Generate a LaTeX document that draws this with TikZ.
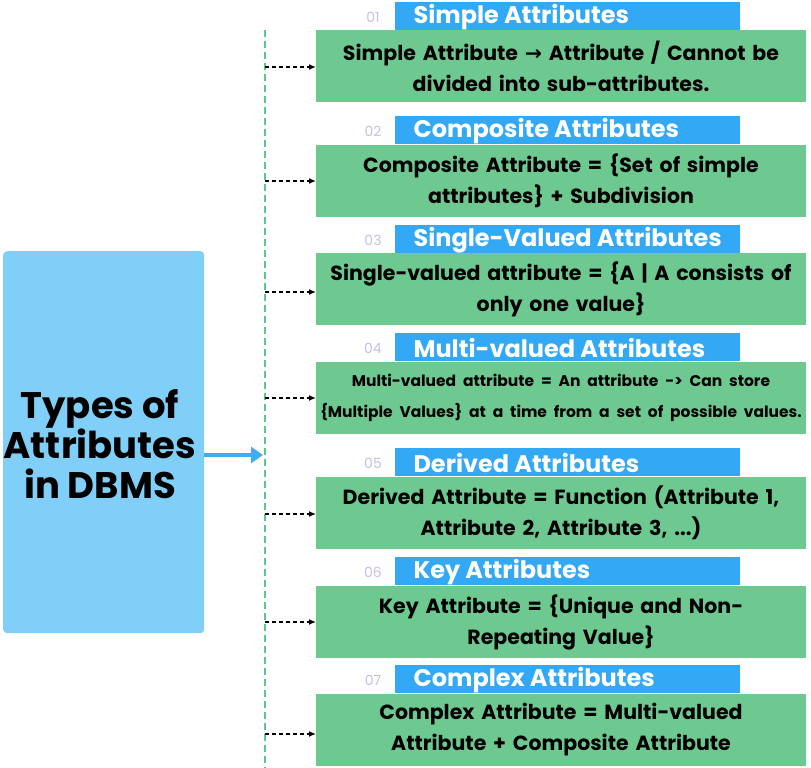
\documentclass[tikz,border=0pt]{standalone}
\usepackage{fontspec}
\setmainfont{Poppins}
\newfontfamily\dvs{DejaVu Sans}
\usetikzlibrary{arrows.meta}
\definecolor{lblue}{HTML}{80CFF8}
\definecolor{hblue}{HTML}{33A9F5}
\definecolor{gbox}{HTML}{6DC98F}
\definecolor{gline}{HTML}{5BC68E}
\definecolor{numc}{HTML}{C6BFE6}
\definecolor{arr}{HTML}{3DAEF0}
\tikzset{
 hdr/.style={fill=hblue,minimum width=345pt,minimum height=28pt,anchor=north west,inner sep=0pt},
 hdrtxt/.style={text=white,font=\fontsize{24}{26}\selectfont\bfseries,anchor=west},
 gb/.style={fill=gbox,minimum width=490pt,minimum height=72pt,anchor=north west,inner sep=0pt},
 gbt/.style={text width=490pt,align=center,font=\fontsize{20.5}{31}\selectfont\bfseries},
 num/.style={text=numc,font=\fontsize{14}{16}\selectfont},
 da/.style={dash pattern=on 4pt off 3pt,line width=1.3pt,-{Latex[length=7pt,width=6pt]}}
}
\begin{document}
\begin{tikzpicture}[x=1pt,y=-1pt]
\useasboundingbox (0,0) rectangle (811,768);
\node[fill=lblue,rounded corners=4pt,minimum width=201pt,minimum height=382pt,anchor=north west,inner sep=0pt] (main) at (3,251) {};
\node[align=center,font=\fontsize{37}{40}\selectfont\bfseries] (mt) at (100,444) {Types of\\Attributes\\in DBMS};
\coordinate (sp) at (265,30);
\coordinate (ep) at (265,768);
\draw[draw=gline,line width=2pt,dash pattern=on 7pt off 4pt] (sp) -- (ep);
\coordinate (mid) at (263,455);
\draw[draw=arr,fill=arr,line width=4pt,-{Triangle[length=12pt,width=16pt]}] (main.east |- mid) -- (mid);
\foreach \i/\hy/\gy/\ay/\name/\txt in {
 1/2/30/67/Simple Attributes/{Simple Attribute {\dvs\bfseries →} Attribute / Cannot be\\divided into sub-attributes.},
 2/116/145/181/Composite Attributes/{Composite Attribute = \{Set of simple\\attributes\} + Subdivision},
 3/225/253/292/Single-Valued Attributes/{Single-valued attribute = \{A | A consists of\\only one value\}},
 4/333/362/398/Multi-valued Attributes/{\fontsize{15.5}{29}\selectfont Multi-valued attribute = An attribute -> Can store\\\{Multiple Values\} at a time from a set of possible values.},
 5/448/477/514/Derived Attributes/{Derived Attribute = Function (Attribute 1,\\Attribute 2, Attribute 3, ...)},
 6/557/586/622/Key Attributes/{Key Attribute = \{Unique and Non-\\Repeating Value\}},
 7/665/694/734/Complex Attributes/{Complex Attribute = Multi-valued\\Attribute + Composite Attribute}}{
 \node[hdr] (h\i) at (395,\hy) {};
 \node[hdrtxt] (ht\i) at (410,\hy+15) {\name};
 \node[num] (n\i) at (373,\hy+15) {0\i};
 \node[gb] (g\i) at (316,\gy) {};
 \node[gbt] (gt\i) at (561,\gy+36) {\txt};
 \coordinate (c\i) at (265,\ay);
 \draw[da] (c\i) -- (g\i.west |- c\i);
}
\end{tikzpicture}
\end{document}
